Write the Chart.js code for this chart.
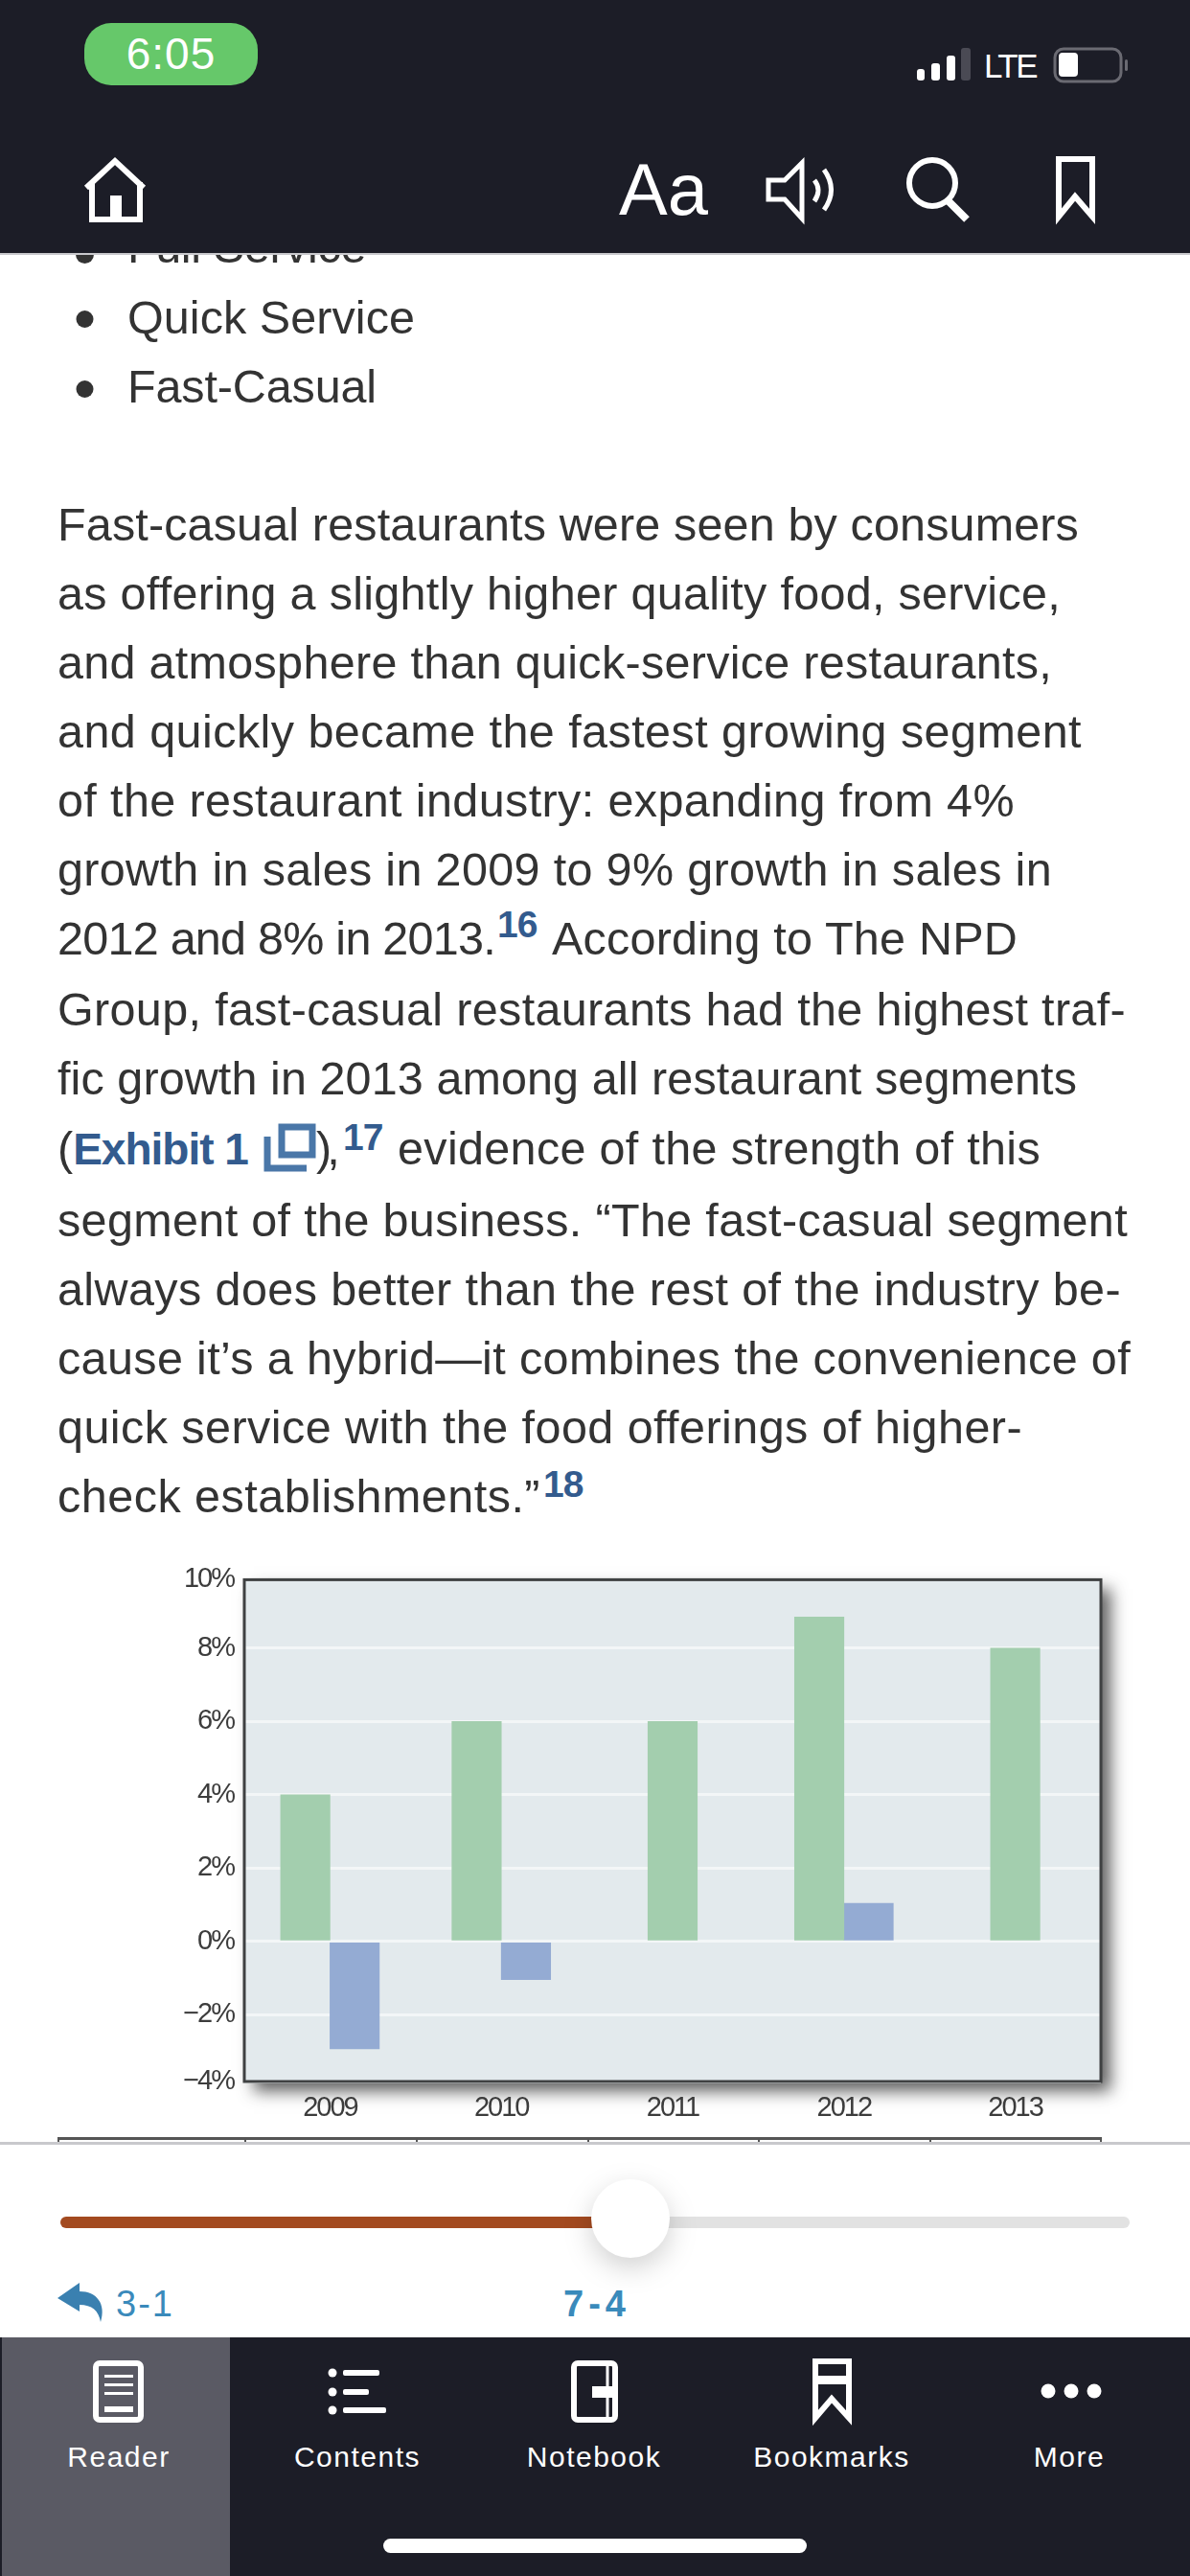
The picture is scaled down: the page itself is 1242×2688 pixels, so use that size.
<!DOCTYPE html>
<html>
<head>
<meta charset="utf-8">
<title>Exhibit 1</title>
<script src="https://cdn.jsdelivr.net/npm/chart.js@4"></script>
<style>
    html, body { margin: 0; padding: 0; background: #fff; }
    body { width: 1242px; height: 2688px; position: relative; overflow: hidden; font-family: "Liberation Sans", Arial, sans-serif; color: #333; }
    .abs { position: absolute; white-space: nowrap; }
    .line { position: absolute; left: 60px; font-size: 48.5px; line-height: 72px; white-space: nowrap; }
    .line b { color: #335b8e; font-size: 46px; letter-spacing: -1px; }
    .sup { color: #335b8e; font-weight: bold; font-size: 39px; letter-spacing: -1px; }
    #header { position: absolute; left: 0; top: 0; width: 1242px; height: 264px; background: #1c1d27; border-bottom: 2px solid #c8c8cc; z-index: 2; }
    #pill { position: absolute; left: 88px; top: 24px; width: 181px; height: 65px; border-radius: 28px; background: #66c86a; color: #fff; font-size: 46px; line-height: 65px; text-align: center; letter-spacing: 1px; z-index: 3; }
    #sheet { position: absolute; left: 0; top: 2235px; width: 1242px; height: 204px; background: #fff; border-top: 3px solid #c8c8cc; box-sizing: border-box; z-index: 2; }
    #tabbar { position: absolute; left: 0; top: 2439px; width: 1242px; height: 249px; background: #1c1d27; z-index: 2; }
    #tab-active { position: absolute; left: 2px; top: 2439px; width: 238px; height: 249px; background: #5a5a64; z-index: 2; }
    .tab { position: absolute; top: 2545px; width: 220px; text-align: center; color: #fff; font-size: 30px; line-height: 38px; letter-spacing: 1.5px; z-index: 3; }
    #chrome { position: absolute; left: 0; top: 0; z-index: 3; pointer-events: none; }
    #chart-box { position: absolute; left: 161px; top: 1620px; width: 1040px; height: 610px; }
</style>
</head>
<body>

<div id="chart-box"><canvas id="chart" width="1040" height="610"></canvas></div>

<!-- top edge of the table under the chart, cut off by the slider sheet -->
<div class="abs" style="left:60px;top:2230px;width:1090px;height:3px;background:#555"></div>
<div class="abs" style="left:60px;top:2230px;width:2px;height:8px;background:#555"></div>
<div class="abs" style="left:255px;top:2230px;width:2px;height:8px;background:#555"></div>
<div class="abs" style="left:434px;top:2230px;width:2px;height:8px;background:#555"></div>
<div class="abs" style="left:613px;top:2230px;width:2px;height:8px;background:#555"></div>
<div class="abs" style="left:791px;top:2230px;width:2px;height:8px;background:#555"></div>
<div class="abs" style="left:970px;top:2230px;width:2px;height:8px;background:#555"></div>
<div class="abs" style="left:1148px;top:2230px;width:2px;height:8px;background:#555"></div>

<!-- bullet of the list line that runs under the header -->
<div class="abs" style="left:79px;top:256px;width:19px;height:19px;border-radius:50%;background:#333"></div>

<div id="header"></div>
<div id="pill">6:05</div>
<div class="abs" style="left:1027px;top:48px;font-size:35px;line-height:42px;letter-spacing:-2.5px;color:#fff;z-index:3">LTE</div>
<div class="abs" style="left:646px;top:153px;font-size:76px;line-height:90px;color:#fff;z-index:3">Aa</div>

<div id="sheet"></div>
<div class="abs" style="left:121px;top:2382px;font-size:38px;line-height:44px;letter-spacing:2px;color:#3a8abb;z-index:3">3-1</div>
<div class="abs" style="left:588px;top:2382px;font-size:38px;line-height:44px;font-weight:bold;letter-spacing:5px;color:#3a8abb;z-index:3">7-4</div>
<div id="tabbar"></div>
<div id="tab-active"></div>
<div class="tab" style="left:14px">Reader</div>
<div class="tab" style="left:263px">Contents</div>
<div class="tab" style="left:510px">Notebook</div>
<div class="tab" style="left:758px">Bookmarks</div>
<div class="tab" style="left:1006px">More</div>

<svg id="chrome" width="1242" height="2688" viewBox="0 0 1242 2688">
    <!-- status bar -->
    <g fill="#fff">
        <rect x="957" y="72" width="8" height="12" rx="3"/>
        <rect x="972" y="66" width="9" height="18" rx="3"/>
        <rect x="988" y="58" width="9" height="26" rx="3"/>
        <rect x="1003" y="50" width="10" height="34" rx="3" fill="#4a4a54"/>
        <rect x="1105" y="55" width="20" height="25" rx="4"/>
    </g>
    <rect x="1101" y="51" width="69" height="34" rx="9" fill="none" stroke="#6a6a72" stroke-width="3"/>
    <rect x="1174" y="62" width="3" height="12" rx="1.5" fill="#6a6a72"/>
    <!-- header icons -->
    <g fill="none" stroke="#fff" stroke-width="6">
        <path d="M90 196 L120 168 L150 196"/>
        <path d="M96 190 V229 H146 V190"/>
        <path d="M121 229 V204" stroke-width="12"/>
        <path d="M802 188 H819 L837 170 V228 L819 208 H802 Z" stroke-width="5"/>
        <path d="M850 188 Q858 198 850 210" stroke-width="5"/>
        <path d="M860 177 Q875 198 860 219" stroke-width="5"/>
        <circle cx="973" cy="191" r="24"/>
        <path d="M990 210 L1009 229" stroke-width="8"/>
        <path d="M1105 166 H1140 V226 L1122 205 L1105 226 Z"/>
    </g>
    <!-- slider -->
    <rect x="63" y="2313" width="600" height="12" rx="6" fill="#a34a20"/>
    <rect x="650" y="2313" width="529" height="12" rx="6" fill="#e2e2e2"/>
    <circle cx="658" cy="2315" r="41" fill="#fff" style="filter:drop-shadow(0 10px 14px rgba(0,0,0,0.18))"/>
    <path d="M60 2398 L83 2382 L83 2391 C101 2391 111 2404 105 2423 C103 2411 96 2405 83 2405 L83 2412 Z" fill="#3a80b0"/>
    <!-- tab icons -->
    <g fill="none" stroke="#fff" stroke-width="6">
        <rect x="100" y="2466" width="47" height="59" rx="4"/>
        <rect x="599" y="2466" width="43" height="59" rx="4"/>
        <path d="M634 2466 V2525" stroke-width="3"/>
        <path d="M851 2464 H886 V2523 L868 2503 L851 2523 Z"/>
    </g>
    <g fill="#fff">
        <rect x="109" y="2478" width="30" height="3"/>
        <rect x="109" y="2487" width="30" height="3"/>
        <rect x="109" y="2496" width="30" height="3"/>
        <rect x="109" y="2511" width="30" height="6"/>
        <circle cx="347" cy="2476" r="4.5"/>
        <circle cx="347" cy="2496" r="4.5"/>
        <circle cx="347" cy="2515" r="4.5"/>
        <rect x="358" y="2473" width="38" height="6" rx="2"/>
        <rect x="358" y="2493" width="27" height="6" rx="2"/>
        <rect x="358" y="2512" width="45" height="6" rx="2"/>
        <rect x="618" y="2490" width="24" height="12"/>
        <rect x="851" y="2479" width="35" height="9"/>
        <circle cx="1094" cy="2495" r="7.5"/>
        <circle cx="1118" cy="2495" r="7.5"/>
        <circle cx="1142" cy="2495" r="7.5"/>
        <rect x="400" y="2649" width="442" height="15" rx="7.5"/>
    </g>
    <!-- list bullets -->
    <g fill="#333">
        <ellipse cx="88.5" cy="333" rx="9" ry="9"/>
        <ellipse cx="88.5" cy="406" rx="9" ry="9"/>
    </g>
    <!-- exhibit link icon -->
    <g fill="none" stroke="#4a77a8" stroke-width="7">
        <rect x="294" y="1176" width="32" height="29"/>
        <path d="M279 1186 V1219 H320"/>
    </g>
</svg>

<script>
// Exhibit 1 values
const years = ['2009', '2010', '2011', '2012', '2013'];
const greenValues = [4, 6, 6, 8.85, 8];
const blueValues = [-2.93, -1.04, null, 1.04, null];
const yTickValues = [-4, -2, 0, 2, 4, 6, 8, 10];
const yTickLabels = ['\u22124%', '\u22122%', '0%', '2%', '4%', '6%', '8%', '10%'];

// the printed frame cuts the axis slightly inside -4% and 10%
const yMin = -3.82;
const yMax = 9.87;

// baseline, left edge, right edge, text
const textPieces = [
    [274, 133, 382, 'Full Service'],
    [348, 133, 433, 'Quick Service'],
    [420, 133, 393, 'Fast-Casual'],
    [564, 60, 1126, 'Fast-casual restaurants were seen by consumers'],
    [636, 60, 1107, 'as offering a slightly higher quality food, service,'],
    [708, 60, 1098, 'and atmosphere than quick-service restaurants,'],
    [780, 60, 1129, 'and quickly became the fastest growing segment'],
    [852, 60, 1059, 'of the restaurant industry: expanding from 4%'],
    [924, 60, 1098, 'growth in sales in 2009 to 9% growth in sales in'],
    [996, 60, 517, '2012 and 8% in 2013.'],
    [996, 576, 1062, 'According to The NPD'],
    [1070, 60, 1175, 'Group, fast-casual restaurants had the highest traf-'],
    [1142, 60, 1124, 'fic growth in 2013 among all restaurant segments'],
    [1215, 60, 259, '(<b>Exhibit 1</b>'],
    [1215, 330, 350, '),'],
    [1215, 415, 1086, 'evidence of the strength of this'],
    [1290, 60, 1177, 'segment of the business. \u201cThe fast-casual segment'],
    [1362, 60, 1170, 'always does better than the rest of the industry be-'],
    [1434, 60, 1180, 'cause it\u2019s a hybrid\u2014it combines the convenience of'],
    [1506, 60, 1067, 'quick service with the food offerings of higher-'],
    [1578, 60, 564, 'check establishments.\u201d']
];
const superscripts = [
    [982, 519, '16'],
    [1204, 358, '17'],
    [1566, 567, '18']
];

function addPiece(baseline, left, html, cls) {
    const el = document.createElement('div');
    el.className = 'line ' + (cls || '');
    el.style.top = (baseline - 53) + 'px';
    el.style.left = left + 'px';
    el.innerHTML = html;
    document.body.appendChild(el);
    return el;
}
textPieces.forEach(p => {
    const el = addPiece(p[0], p[1], p[3]);
    // nudge the tracking so the piece ends where it ends in the scan
    if (!el.querySelector('b')) {
        const room = p[2] - p[1] - el.getBoundingClientRect().width;
        el.style.letterSpacing = (room / el.textContent.length) + 'px';
    }
});
superscripts.forEach(s => addPiece(s[0], s[1], s[2], 'sup'));

// panel, drop shadow and dark frame of the plot
const framePlugin = {
    id: 'frame',
    beforeDraw(chart) {
        const { ctx, chartArea: a } = chart;
        ctx.save();
        ctx.shadowColor = 'rgba(40,40,40,0.75)';
        ctx.shadowBlur = 16;
        ctx.shadowOffsetX = 10;
        ctx.shadowOffsetY = 10;
        ctx.fillStyle = '#e3eaed';
        ctx.fillRect(a.left, a.top, a.width, a.height);
        ctx.restore();
        // no narrow face installed, so tighten the axis labels instead
        ctx.letterSpacing = '-2px';
    },
    afterDraw(chart) {
        const { ctx, chartArea: a } = chart;
        ctx.save();
        ctx.letterSpacing = '0px';
        ctx.strokeStyle = '#3f4142';
        ctx.lineWidth = 3;
        ctx.strokeRect(a.left, a.top, a.width, a.height);
        ctx.restore();
    }
};

const axisFont = { family: '"Liberation Sans", sans-serif', size: 29 };

new Chart(document.getElementById('chart'), {
    type: 'bar',
    data: {
        labels: years,
        datasets: [
            { data: greenValues, backgroundColor: '#a3ceae', barThickness: 51.5, skipNull: true },
            { data: blueValues, backgroundColor: '#94abd3', barThickness: 51.5, skipNull: true }
        ]
    },
    options: {
        responsive: false,
        animation: false,
        devicePixelRatio: 1,
        layout: { padding: { top: 25, right: 52 } },
        plugins: { legend: { display: false }, tooltip: { enabled: false } },
        scales: {
            x: {
                grid: { display: false },
                border: { display: false },
                ticks: { color: '#3c3c3c', font: axisFont, padding: 3, maxRotation: 0 },
                afterFit(scale) { scale.height = 58; }
            },
            y: {
                min: yMin,
                max: yMax,
                afterBuildTicks(scale) {
                    scale.ticks = yTickValues.map(v => ({ value: Math.min(Math.max(v, yMin), yMax) }));
                },
                grid: {
                    color: '#f3f6f7',
                    lineWidth: 3,
                    drawTicks: false
                },
                border: { display: false },
                ticks: {
                    color: '#3c3c3c',
                    font: axisFont,
                    padding: 11,
                    autoSkip: false,
                    callback: (value, index) => yTickLabels[index]
                },
                afterFit(scale) { scale.width = 94; }
            }
        }
    },
    plugins: [framePlugin]
});
</script>
</body>
</html>
